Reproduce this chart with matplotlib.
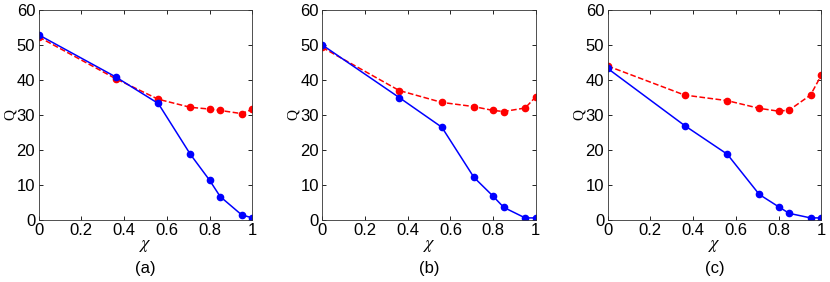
import numpy as np
import matplotlib
matplotlib.use("Agg")
import matplotlib.pyplot as plt

plt.rcParams['font.family'] = ['Liberation Sans', 'DejaVu Sans']
plt.rcParams['mathtext.fontset'] = 'stix'

chi = [0, 0.36, 0.56, 0.71, 0.8, 0.85, 0.95, 1.0]

blue_a = [52.9, 40.9, 33.3, 18.8, 11.4, 6.7, 1.5, 0.6]
red_a = [52.3, 40.4, 34.5, 32.2, 31.7, 31.3, 30.4, 31.6]

blue_b = [50.0, 35.0, 26.5, 12.2, 6.8, 3.6, 0.6, 0.6]
red_b = [49.3, 37.0, 33.6, 32.4, 31.3, 31.0, 32.0, 35.2]

blue_c = [43.3, 27.0, 18.8, 7.3, 3.8, 1.9, 0.6, 0.6]
red_c = [44.0, 35.7, 34.1, 31.9, 31.1, 31.4, 35.7, 41.3]

captions = ['(a)', '(b)', '(c)']
blues = [blue_a, blue_b, blue_c]
reds = [red_a, red_b, red_c]

fig = plt.figure(figsize=(8.3, 2.82), dpi=100)
lefts = [38.7, 322.3, 607.7]
for i in range(3):
    ax = fig.add_axes([lefts[i] / 830, 1 - 220 / 282, 213.5 / 830, 210 / 282])
    ax.plot(chi, reds[i], '--', color='#ff0000', marker='o', markersize=4.5, lw=1.1)
    ax.plot(chi, blues[i], '-', color='#0000ff', marker='o', markersize=4.5, lw=1.1)
    ax.set_xlim(0, 1)
    ax.set_ylim(0, 60)
    ax.set_xticks([0, 0.2, 0.4, 0.6, 0.8, 1])
    ax.set_xticklabels(['0', '0.2', '0.4', '0.6', '0.8', '1'])
    ax.set_yticks([0, 10, 20, 30, 40, 50, 60])
    ax.tick_params(direction='in', top=True, right=True, labelsize=12, length=3, width=0.6, pad=2.5)
    for s in ax.spines.values():
        s.set_linewidth(0.6)
        s.set_color('#333333')
    ax.set_xlabel(r'$\chi$', fontsize=13, labelpad=-1)
    ax.set_ylabel('Q', fontsize=11, labelpad=0, family='Liberation Serif')
    fig.text((lefts[i] + 213.5 / 2) / 830, 1 - 268 / 282, captions[i], ha='center', va='center', fontsize=12)

fig.savefig('out.png', dpi=100)
